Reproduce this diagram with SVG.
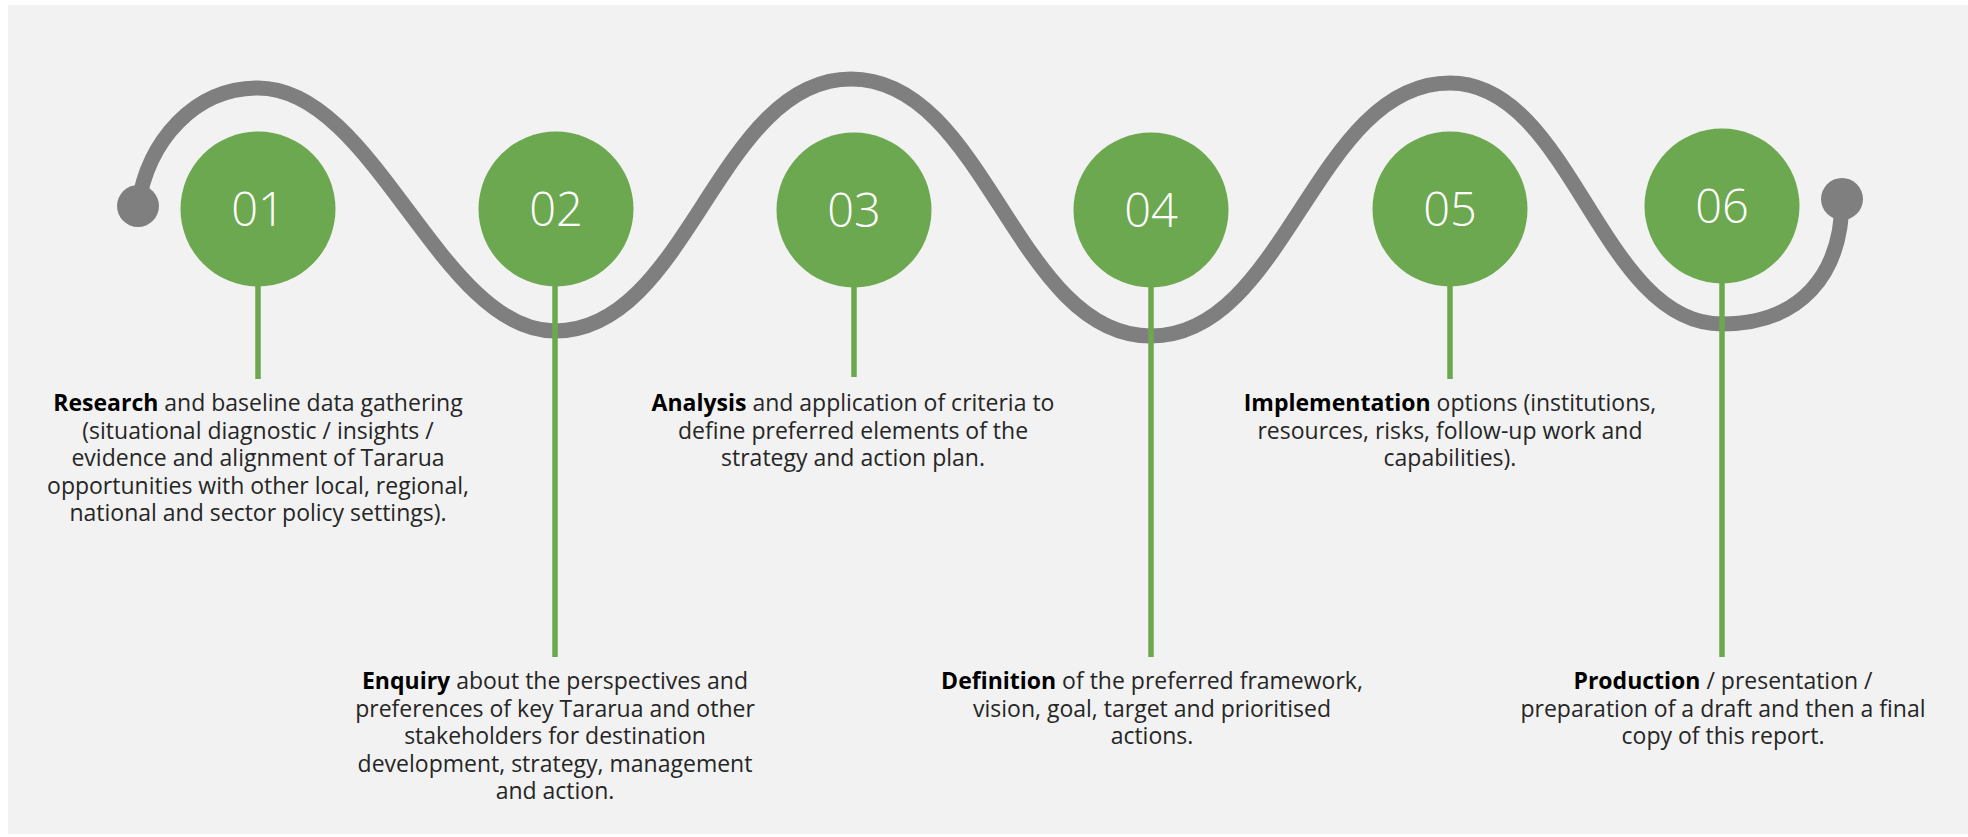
<svg xmlns="http://www.w3.org/2000/svg" width="1968" height="837" viewBox="0 0 1968 837">
<style>
.bg{fill:#f2f2f2}
.wave{fill:none;stroke:#7f7f7f;stroke-width:15;stroke-linecap:round}
.dot{fill:#7f7f7f}
.stem{stroke:#6ca84f;stroke-width:5.5;fill:none}
.disc{fill:#6ca84f}
.num{font-family:"Open Sans","Liberation Sans",sans-serif;font-weight:300;font-size:47px;fill:#ffffff;text-anchor:middle}
.desc{font-family:"Open Sans","Liberation Sans",sans-serif;font-size:23px;fill:#262626;text-anchor:middle}
.desc tspan.b{font-weight:700;fill:#000000}
</style>
<rect x="0" y="0" width="1968" height="837" fill="#ffffff"/>
<rect class="bg" x="8" y="5" width="1960" height="829"/>
<g id="wave">
<path class="wave" d="M 138 206 C 148 140 195 88 258 88 C 375 88 440 331 555 331 C 688 331 718 79 851 79 C 986 79 1016 336 1151 336 C 1286 336 1315 83 1450 83 C 1572 83 1600 324 1722 324 C 1800 324 1842 275 1842 199"/>
<circle class="dot" cx="138" cy="206" r="21"/>
<circle class="dot" cx="1842" cy="199" r="21"/>
</g>
<g id="connectors">
<line class="stem" x1="258" y1="280" x2="258" y2="379"/>
<line class="stem" x1="555" y1="280" x2="555" y2="657"/>
<line class="stem" x1="854" y1="280" x2="854" y2="377"/>
<line class="stem" x1="1151" y1="280" x2="1151" y2="657"/>
<line class="stem" x1="1450" y1="280" x2="1450" y2="379"/>
<line class="stem" x1="1722" y1="278" x2="1722" y2="657"/>
</g>
<g id="node01">
<circle class="disc" cx="258" cy="209" r="77.5"/>
<text class="num" x="258" y="226">01</text>
<text class="desc" x="258" y="411"><tspan class="b">Research</tspan> and baseline data gathering<tspan x="258" dy="27.5">(situational diagnostic / insights /</tspan><tspan x="258" dy="27.5">evidence and alignment of Tararua</tspan><tspan x="258" dy="27.5">opportunities with other local, regional,</tspan><tspan x="258" dy="27.5">national and sector policy settings).</tspan></text>
</g>
<g id="node02">
<circle class="disc" cx="556" cy="209" r="77.5"/>
<text class="num" x="556" y="226">02</text>
<text class="desc" x="555" y="689"><tspan class="b">Enquiry</tspan> about the perspectives and<tspan x="555" dy="27.5">preferences of key Tararua and other</tspan><tspan x="555" dy="27.5">stakeholders for destination</tspan><tspan x="555" dy="27.5">development, strategy, management</tspan><tspan x="555" dy="27.5">and action.</tspan></text>
</g>
<g id="node03">
<circle class="disc" cx="854" cy="210" r="77.5"/>
<text class="num" x="854" y="227">03</text>
<text class="desc" x="853" y="411"><tspan class="b">Analysis</tspan> and application of criteria to<tspan x="853" dy="27.5">define preferred elements of the</tspan><tspan x="853" dy="27.5">strategy and action plan.</tspan></text>
</g>
<g id="node04">
<circle class="disc" cx="1151" cy="210" r="77.5"/>
<text class="num" x="1151" y="227">04</text>
<text class="desc" x="1152" y="689"><tspan class="b">Definition</tspan> of the preferred framework,<tspan x="1152" dy="27.5">vision, goal, target and prioritised</tspan><tspan x="1152" dy="27.5">actions.</tspan></text>
</g>
<g id="node05">
<circle class="disc" cx="1450" cy="209" r="77.5"/>
<text class="num" x="1450" y="226">05</text>
<text class="desc" x="1450" y="411"><tspan class="b">Implementation</tspan> options (institutions,<tspan x="1450" dy="27.5">resources, risks, follow-up work and</tspan><tspan x="1450" dy="27.5">capabilities).</tspan></text>
</g>
<g id="node06">
<circle class="disc" cx="1722" cy="206" r="77.5"/>
<text class="num" x="1722" y="223">06</text>
<text class="desc" x="1723" y="689"><tspan class="b">Production</tspan> / presentation /<tspan x="1723" dy="27.5">preparation of a draft and then a final</tspan><tspan x="1723" dy="27.5">copy of this report.</tspan></text>
</g>
</svg>
